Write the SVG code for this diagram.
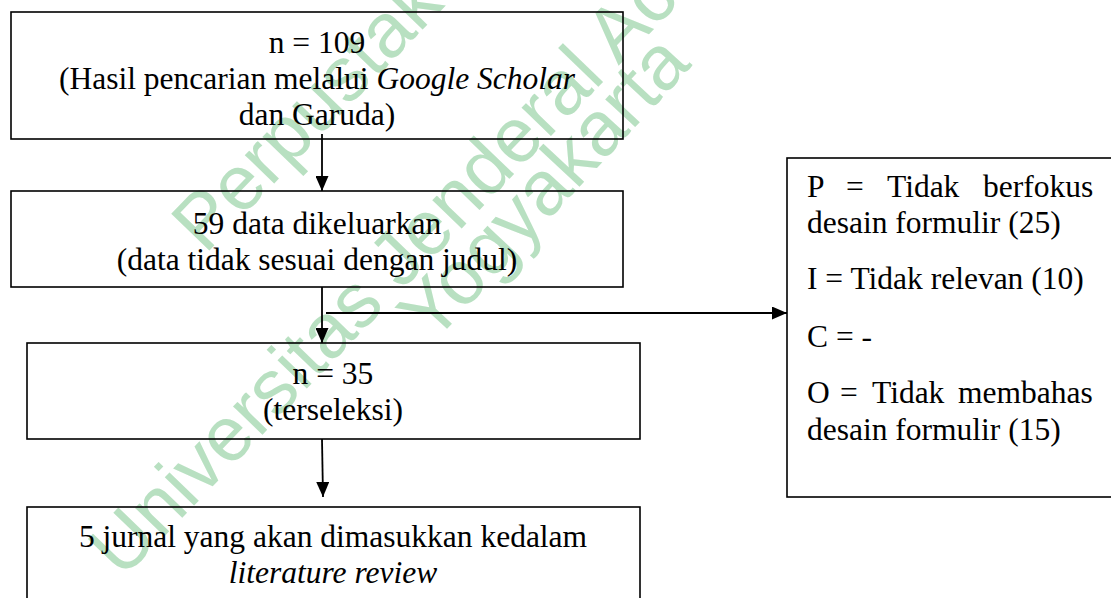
<svg xmlns="http://www.w3.org/2000/svg" width="1111" height="598" viewBox="0 0 1111 598">
<defs>
<style>
.box{fill:none;stroke:#000;stroke-width:1.6}
.t{font-family:"Liberation Serif","Times New Roman",serif;font-size:31.5px;fill:#000}
.c{text-anchor:middle}
.i{font-style:italic}
.wm{font-family:"Liberation Sans",Arial,sans-serif;font-size:77px;fill:#b8e0c1}
.ln{fill:none;stroke:#000;stroke-width:1.8}
</style>
<marker id="ah" markerUnits="userSpaceOnUse" markerWidth="16" markerHeight="13" refX="15" refY="6.5" orient="auto">
<path d="M0,0 L15,6.5 L0,13 z" fill="#000"/>
</marker>
</defs>
<rect width="1111" height="598" fill="#fff"/>
<g id="watermark">
<text class="wm" transform="translate(205,255) rotate(-46)">Perpustakaan</text>
<text class="wm" transform="translate(122,580) rotate(-46)">Universitas Jenderal Achmad Yani</text>
<text class="wm" transform="translate(432,345) rotate(-47)">Yogyakarta</text>
</g>
<g id="connectors">
<line class="ln" x1="322" y1="134" x2="322" y2="191" marker-end="url(#ah)"/>
<line class="ln" x1="322" y1="287" x2="322" y2="343" marker-end="url(#ah)"/>
<line class="ln" x1="326" y1="313" x2="787" y2="313" marker-end="url(#ah)"/>
<line class="ln" x1="322" y1="439" x2="323" y2="497" marker-end="url(#ah)"/>
</g>
<g id="n1">
<rect class="box" x="11" y="12" width="612" height="127"/>
<text class="t c" x="317" y="53">n = 109</text>
<text class="t c" x="317" y="89">(Hasil pencarian melalui <tspan class="i">Google Scholar</tspan></text>
<text class="t c" x="317" y="125">dan Garuda)</text>
</g>
<g id="n2">
<rect class="box" x="11" y="191" width="612" height="96"/>
<text class="t c" x="317" y="234">59 data dikeluarkan</text>
<text class="t c" x="317" y="270">(data tidak sesuai dengan judul)</text>
</g>
<g id="n3">
<rect class="box" x="27" y="343" width="613" height="96"/>
<text class="t c" x="333" y="384">n = 35</text>
<text class="t c" x="333" y="420">(terseleksi)</text>
</g>
<g id="n4">
<rect class="box" x="27" y="507" width="613" height="110"/>
<text class="t c" x="333" y="547">5 jurnal yang akan dimasukkan kedalam</text>
<text class="t c i" x="333" y="583">literature review</text>
</g>
<g id="n5">
<rect class="box" x="787" y="158" width="330" height="339"/>
<text class="t" y="197"><tspan x="807">P</tspan><tspan x="846">=</tspan><tspan x="887">Tidak</tspan><tspan x="983">berfokus</tspan></text>
<text class="t" x="807" y="233">desain formulir (25)</text>
<text class="t" x="807" y="289">I = Tidak relevan (10)</text>
<text class="t" x="807" y="347">C = -</text>
<text class="t" y="403"><tspan x="807">O</tspan><tspan x="840">=</tspan><tspan x="872">Tidak</tspan><tspan x="958">membahas</tspan></text>
<text class="t" x="807" y="440">desain formulir (15)</text>
</g>
</svg>
